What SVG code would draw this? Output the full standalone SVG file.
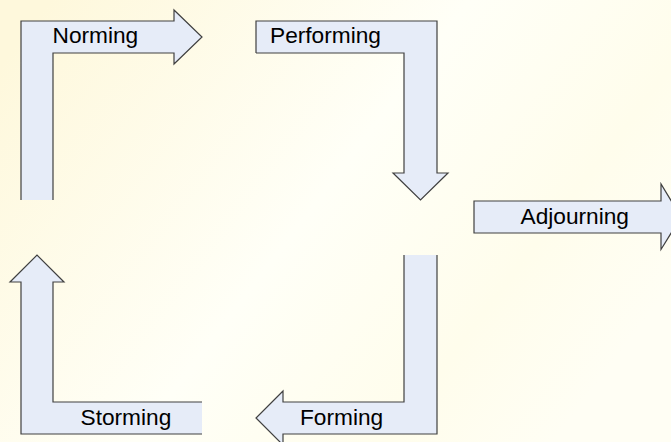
<svg xmlns="http://www.w3.org/2000/svg" width="671" height="442" viewBox="0 0 671 442">
  <defs>
    <linearGradient id="bg" x1="0" y1="0.15" x2="1" y2="0.65">
      <stop offset="0" stop-color="#fef8dc"/>
      <stop offset="0.5" stop-color="#fffff7"/>
      <stop offset="0.8" stop-color="#fffdec"/>
      <stop offset="1" stop-color="#fffef4"/>
    </linearGradient>
    <style>
      .arrow { fill: #e6ecf8; stroke: #404040; stroke-width: 1.2; stroke-linejoin: miter; }
      .label { font-family: "Liberation Sans", Arial, sans-serif; font-size: 22.7px; fill: #000; }
    </style>
  </defs>

  <!-- background -->
  <rect x="0" y="0" width="671" height="442" fill="url(#bg)"/>

  <!-- bent arrows; open paths leave the tail end unstroked -->
  <g id="connectors">
    <g id="norming">
      <path class="arrow" d="M21,200 L21,21 L174,21 L174,10 L202,37 L174,64 L174,53 L53,53 L53,200"/>
      <text class="label" x="52.5" y="43.3">Norming</text>
    </g>
    <g id="performing">
      <path class="arrow" d="M256,53 L256,21 L437,21 L437,173 L448,173 L420.5,200 L393,173 L404,173 L404,53 L256,53"/>
      <text class="label" x="270" y="43.3">Performing</text>
    </g>
    <g id="storming">
      <path class="arrow" d="M202,402 L53,402 L53,282 L64,282 L37,255 L10,282 L21,282 L21,434 L202,434"/>
      <text class="label" x="80.5" y="425">Storming</text>
    </g>
    <g id="forming">
      <path class="arrow" d="M404,255 L404,402 L283,402 L283,391 L256,418 L283,445 L283,434 L437,434 L437,255"/>
      <text class="label" x="300" y="425">Forming</text>
    </g>
    <g id="adjourning">
      <path class="arrow" d="M661,201 L474,201 L474,233 L661,233 L661,249.5 L681,217 L661,184 Z"/>
      <text class="label" x="520.5" y="223.5">Adjourning</text>
    </g>
  </g>
</svg>
